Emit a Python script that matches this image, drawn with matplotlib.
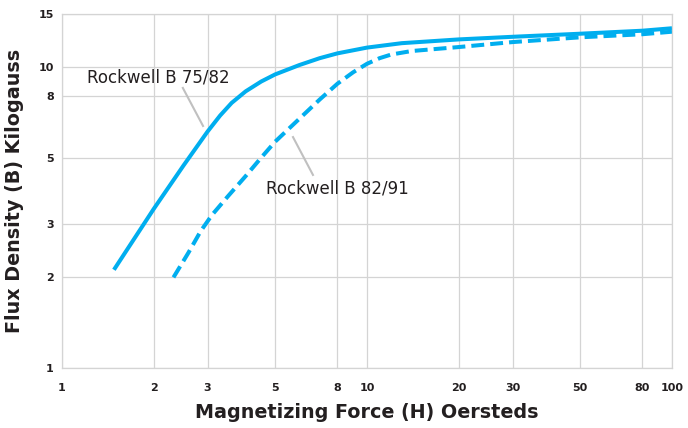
import matplotlib
matplotlib.use("Agg")
import matplotlib.pyplot as plt
from matplotlib.ticker import FixedLocator, NullLocator

# curve readings (H in oersteds, B in kilogauss)
h_7582 = [1.48, 2.0, 2.5, 3.0, 3.3, 3.6, 4.0, 4.5, 5.0, 6.0, 7.0, 8.0, 10.0, 13.0, 20.0, 30.0, 50.0, 80.0, 100.0]
b_7582 = [2.12, 3.38, 4.7, 6.1, 6.9, 7.6, 8.3, 8.95, 9.45, 10.15, 10.7, 11.1, 11.6, 12.0, 12.35, 12.6, 12.9, 13.2, 13.45]

h_8291 = [2.32, 2.6, 2.85, 3.1, 3.5, 4.0, 4.5, 5.0, 6.0, 7.0, 8.0, 9.0, 10.0, 11.0, 12.0, 14.0, 20.0, 30.0, 50.0, 80.0, 100.0]
b_8291 = [2.0, 2.42, 2.85, 3.22, 3.72, 4.34, 5.0, 5.65, 6.73, 7.8, 8.8, 9.6, 10.25, 10.7, 11.0, 11.3, 11.65, 12.1, 12.55, 12.85, 13.1]

x_ticks = [1, 2, 3, 5, 8, 10, 20, 30, 50, 80, 100]
y_ticks = [1, 2, 3, 5, 8, 10, 15]

blue = "#00aeef"
grid_c = "#d4d4d4"
ink = "#231f20"

fig = plt.figure(figsize=(6.88, 4.28), dpi=100)
ax = fig.add_axes([62/688, 60/428, 610/688, 354/428])
ax.set_xscale("log")
ax.set_yscale("log")
ax.set_xlim(1, 100)
ax.set_ylim(1, 15)

ax.xaxis.set_major_locator(FixedLocator(x_ticks))
ax.yaxis.set_major_locator(FixedLocator(y_ticks))
ax.xaxis.set_minor_locator(NullLocator())
ax.yaxis.set_minor_locator(NullLocator())
ax.set_xticklabels([str(t) for t in x_ticks])
ax.set_yticklabels([str(t) for t in y_ticks])
ax.tick_params(length=0, labelsize=8, labelcolor=ink)
ax.tick_params(axis="x", pad=11)
ax.tick_params(axis="y", pad=6)
for lab in ax.get_xticklabels() + ax.get_yticklabels():
    lab.set_fontweight("bold")

ax.grid(True, color=grid_c, linewidth=0.9)
for s in ax.spines.values():
    s.set_color(grid_c)
    s.set_linewidth(0.9)

ax.plot(h_7582, b_7582, color=blue, lw=2.9, solid_capstyle="butt")
ax.plot(h_8291, b_8291, color=blue, lw=2.9, linestyle=(0, (3.2, 1.5)), dash_capstyle="butt")

# leader lines
ax.plot([2.49, 2.90], [8.52, 6.37], color="#c0c0c0", lw=1.5)
ax.plot([5.72, 6.65], [5.85, 4.38], color="#c0c0c0", lw=1.5)
ax.text(1.208, 9.26, "Rockwell B 75/82", fontsize=12, color=ink, va="center", ha="left")
ax.text(4.66, 3.96, "Rockwell B 82/91", fontsize=12, color=ink, va="center", ha="left")

fig.text(367/688, 1 - 412/428, "Magnetizing Force (H) Oersteds", ha="center", va="center",
         fontsize=13.8, fontweight="bold", color=ink)
fig.text(15/688, 1 - 191/428, "Flux Density (B) Kilogauss", ha="center", va="center",
         rotation=90, fontsize=13.8, fontweight="bold", color=ink)

fig.savefig("out.png", dpi=100)
